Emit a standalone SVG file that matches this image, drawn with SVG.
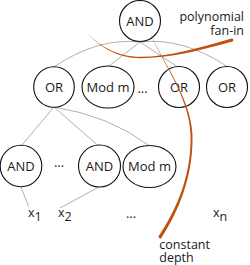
<svg xmlns="http://www.w3.org/2000/svg" width="250" height="265" viewBox="0 0 250 265">
  <style>
    .node { fill: #ffffff; stroke: #111111; stroke-width: 1.1; }
    .lbl { font-family: "Open Sans", "Noto Sans", sans-serif; font-size: 13px; fill: #1a1a1a; text-anchor: middle; }
    .txt { font-family: "Open Sans", "Noto Sans", sans-serif; font-size: 12.5px; fill: #1a1a1a; }
    .edge { fill: none; stroke: #9a9a9a; stroke-width: 0.8; }
    .brush { fill: #c0500e; stroke: none; }
  </style>
  <g id="connectors">
    <path class="edge" d="M140,42 Q97,37.5 54,67"/>
    <path class="edge" d="M140,42 L109,66"/>
    <path class="edge" d="M140,42 L177,66.5"/>
    <path class="edge" d="M140,42 Q183,37 228,67"/>
    <path class="edge" d="M54,107 L22,145"/>
    <path class="edge" d="M54,107 L98,145.5"/>
    <path class="edge" d="M54,107 Q108.5,115.5 149,145.5"/>
    <path class="edge" d="M21,187 L28.5,206.5"/>
    <path class="edge" d="M99,187 L60,208"/>
  </g>
  <g id="n-and-top">
    <circle class="node" cx="140" cy="21" r="20.5"/>
    <text class="lbl" x="140" y="25.7">AND</text>
  </g>
  <g id="n-or1">
    <circle class="node" cx="54" cy="87" r="20.3"/>
    <text class="lbl" x="54" y="91.7">OR</text>
  </g>
  <g id="n-mod1">
    <ellipse class="node" cx="108" cy="87" rx="26" ry="21"/>
    <text class="lbl" x="108" y="91.7">Mod m</text>
  </g>
  <g id="dots-row2">
    <text class="lbl" x="142.5" y="92.5">...</text>
  </g>
  <g id="n-or3">
    <circle class="node" cx="179" cy="87" r="20.5"/>
    <text class="lbl" x="179" y="91.7">OR</text>
  </g>
  <g id="n-or4">
    <circle class="node" cx="227" cy="87" r="20.5"/>
    <text class="lbl" x="227" y="91.7">OR</text>
  </g>
  <g id="n-and1">
    <circle class="node" cx="21" cy="166" r="20.8"/>
    <text class="lbl" x="21" y="170.7">AND</text>
  </g>
  <g id="dots-row3">
    <text class="lbl" x="59" y="167">...</text>
  </g>
  <g id="n-and2">
    <circle class="node" cx="99.5" cy="166" r="21"/>
    <text class="lbl" x="99.5" y="170.7">AND</text>
  </g>
  <g id="n-mod2">
    <ellipse class="node" cx="149.5" cy="166.5" rx="26.5" ry="21"/>
    <text class="lbl" x="149.5" y="171">Mod m</text>
  </g>
  <g id="inputs">
    <text class="txt" x="28" y="216.7">x<tspan font-size="12.5" dy="4">1</tspan></text>
    <text class="txt" x="58" y="216.7">x<tspan font-size="12.5" dy="4">2</tspan></text>
    <text class="lbl" x="131" y="218">...</text>
    <text class="txt" x="213" y="216.7">x<tspan font-size="12.5" dy="4">n</tspan></text>
  </g>
  <g id="fan-in">
    <path class="brush" d="M87,33 C100,46.6 118,56.8 140,56.8 C170,56.8 199.6,47.5 231.5,38.4 A1.7,1.7 0 0 1 232.5,41.6 C200.4,50.5 170,58.2 140,58.2 C118,58.2 100,47.4 87,33 Z"/>
    <text class="txt" x="244" y="21" text-anchor="end">polynomial</text>
    <text class="txt" x="244" y="34.5" text-anchor="end">fan-in</text>
  </g>
  <g id="depth">
    <path class="brush" d="M149,29 C157.3,55 191.1,95 192.5,135 C193.4,175 179.2,210.8 161.3,237.9 A1.6,1.6 0 0 1 158.7,236.1 C176.8,209.2 191.6,175 190.5,135 C189.9,95 156.7,55 149,29 Z"/>
    <text class="txt" x="159.3" y="248.8">constant</text>
    <text class="txt" x="159.3" y="262">depth</text>
  </g>
</svg>
